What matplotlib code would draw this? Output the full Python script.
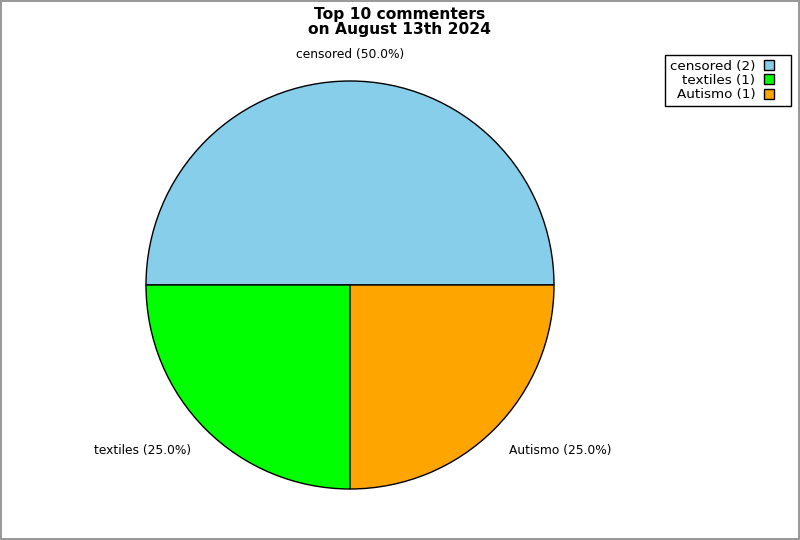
import numpy as np
import matplotlib
matplotlib.use("Agg")
import matplotlib.pyplot as plt
from matplotlib.lines import Line2D

# data
names = ["censored", "textiles", "Autismo"]
counts = [2, 1, 1]
colors = ["#87CEEB", "#00FF00", "#FFA500"]
title = "Top 10 commenters\non August 13th 2024"

W, H = 800, 540
R = 204.0          # pie radius in pixels
cx, cy = 350, 285  # pie centre in pixels (from top-left)

fig = plt.figure(figsize=(W / 100, H / 100), dpi=100)
fig.patch.set_edgecolor("#999999")
fig.patch.set_linewidth(1.5)

ax = fig.add_axes([0, 0, 1, 1])

total = sum(counts)
wedges, _ = ax.pie(counts, colors=colors, startangle=0, counterclock=True,
                   radius=1.0, wedgeprops=dict(edgecolor="black", linewidth=1))

# pie() resets the limits, so set them afterwards
ax.set_xlim(-cx / R, (W - cx) / R)
ax.set_ylim(-(H - cy) / R, cy / R)
ax.set_aspect("equal")
ax.axis("off")

# labels outside the slices, anchored by the corner nearest the pie
for w, name, c in zip(wedges, names, counts):
    mid = np.deg2rad((w.theta1 + w.theta2) / 2)
    x, y = 1.1 * np.cos(mid), 1.1 * np.sin(mid)
    if abs(np.cos(mid)) < 0.3:
        ha = "center"
    else:
        ha = "left" if np.cos(mid) > 0 else "right"
    va = "bottom" if np.sin(mid) > 0 else "top"
    ax.text(x, y, "%s (%.1f%%)" % (name, 100.0 * c / total),
            ha=ha, va=va, fontsize=8.8)

fig.text(0.5, 1 - 7 / H, title, ha="center", va="top",
         fontsize=11.2, fontweight="bold", linespacing=1.0)

# square markers with a black edge, right of the labels
handles = [Line2D([], [], linestyle="none", marker="s", markersize=7.2,
                  markerfacecolor=col, markeredgecolor="black",
                  markeredgewidth=1) for col in colors]
labels = ["%s (%d)" % (n, c) for n, c in zip(names, counts)]
leg = fig.legend(handles, labels, loc="upper right",
                 bbox_to_anchor=(791 / W, 1 - 55 / H), borderaxespad=0,
                 markerfirst=False, fancybox=False, framealpha=1,
                 edgecolor="black", fontsize=9.7, handlelength=2.6,
                 handletextpad=-0.3, labelspacing=0.1, borderpad=0.35)
leg.get_frame().set_linewidth(1)

fig.savefig("out.png", dpi=100)
